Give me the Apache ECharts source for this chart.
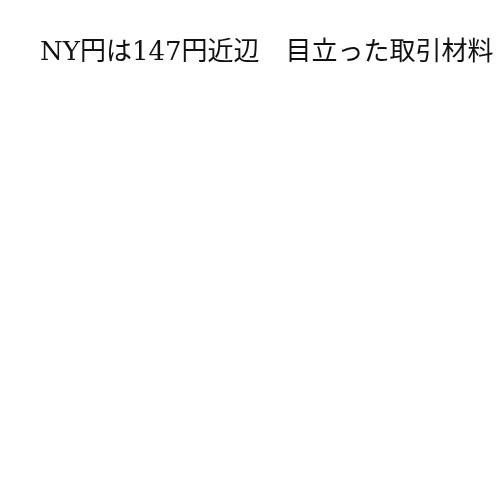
<!DOCTYPE html>
<html><head><meta charset="utf-8">
<script src="https://cdn.jsdelivr.net/npm/echarts@6/dist/echarts.min.js"></script>
<style>html,body{margin:0;padding:0;background:#fff;}#c{width:500px;height:500px;}</style>
</head><body><div id="c"></div>
<script>
const titleText = "NY円は147円近辺　目立った取引材料";
const categories = [];
const values = [];
const chart = echarts.init(document.getElementById('c'));
chart.setOption({
  backgroundColor: '#fff',
  animation: false,
  title: {
    text: titleText,
    left: 35,
    top: 35,
    textStyle: {
      fontFamily: '"DejaVu Serif", "Noto Sans CJK JP", serif',
      fontSize: 26,
      fontWeight: 'normal',
      color: '#111'
    }
  }
});
</script></body></html>
